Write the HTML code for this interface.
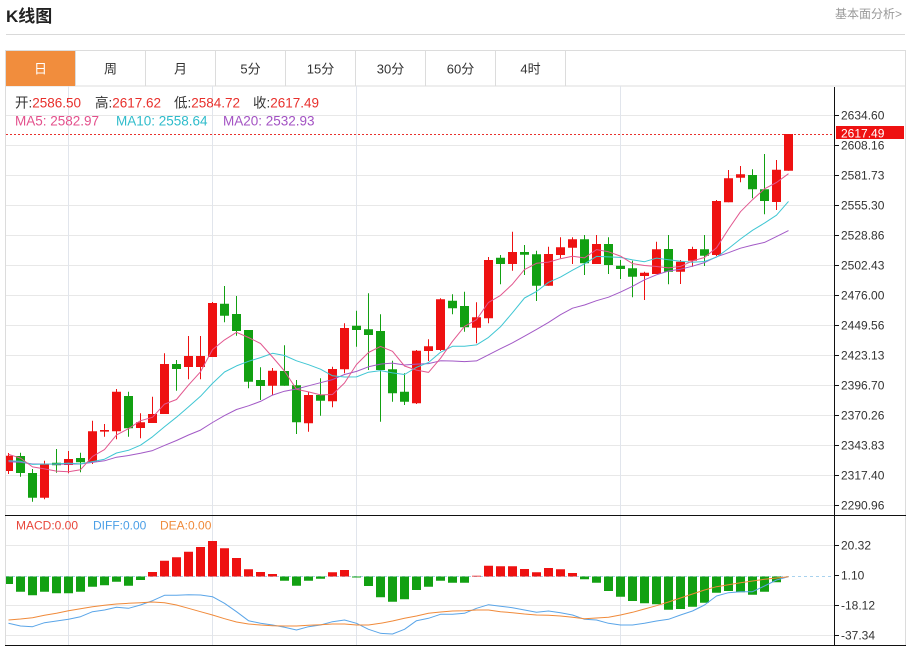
<!DOCTYPE html>
<html><head><meta charset="utf-8">
<style>
html,body{margin:0;padding:0;background:#fff;}
body{width:911px;height:648px;overflow:hidden;}
svg{display:block;font-family:"Liberation Sans","Noto Sans CJK SC",sans-serif;}
</style></head>
<body>
<svg width="911" height="648" viewBox="0 0 911 648" xmlns="http://www.w3.org/2000/svg">
<defs>
<clipPath id="cm"><rect x="6" y="87" width="828" height="428"/></clipPath>
<clipPath id="cd"><rect x="6" y="516" width="828" height="129"/></clipPath>
</defs>
<rect width="911" height="648" fill="#fff"/>
<text x="6" y="22" font-size="17" font-weight="bold" fill="#222">K线图</text>
<text x="835" y="18" font-size="12" fill="#999">基本面分析&gt;</text>
<line x1="6" y1="34.5" x2="905" y2="34.5" stroke="#d9d9d9"/>
<rect x="5.5" y="50.5" width="900" height="35.5" fill="#fff" stroke="#dcdcdc"/>
<rect x="6" y="51" width="69" height="35" fill="#f18d3d"/>
<path stroke="#dcdcdc" d="M75.5 51V86M145.5 51V86M215.5 51V86M285.5 51V86M355.5 51V86M425.5 51V86M495.5 51V86M565.5 51V86"/>
<g font-size="13" fill="#333" text-anchor="middle">
<text x="40.5" y="73.5" fill="#fff">日</text><text x="110.5" y="73.5">周</text><text x="180.5" y="73.5">月</text><text x="250.5" y="73.5">5分</text><text x="320.5" y="73.5">15分</text><text x="390.5" y="73.5">30分</text><text x="460.5" y="73.5">60分</text><text x="530.5" y="73.5">4时</text>
</g>
<path stroke="#dcdcdc" d="M5.5 86V646M905.5 86V646"/>
<path stroke="#e8e8e8" d="M6 115.5H834M6 145.5H834M6 175.5H834M6 205.5H834M6 235.5H834M6 265.5H834M6 295.5H834M6 325.5H834M6 355.5H834M6 385.5H834M6 415.5H834M6 445.5H834M6 475.5H834M6 505.5H834M6 545.5H834M6 605.5H834M6 635.5H834"/>
<path stroke="#e1e5ec" d="M68.5 86V645M212.5 86V645M356.5 86V645M620.5 86V645"/>
<g font-size="13.5">
<text x="15" y="107.5" fill="#333">开:<tspan fill="#e8302c">2586.50</tspan></text>
<text x="95" y="107.5" fill="#333">高:<tspan fill="#e8302c">2617.62</tspan></text>
<text x="174" y="107.5" fill="#333">低:<tspan fill="#e8302c">2584.72</tspan></text>
<text x="253" y="107.5" fill="#333">收:<tspan fill="#e8302c">2617.49</tspan></text>
<text x="15" y="125.5" fill="#e4508c">MA5: 2582.97</text>
<text x="116" y="125.5" fill="#2fbccb">MA10: 2558.64</text>
<text x="223" y="125.5" fill="#a352c3">MA20: 2532.93</text>
</g>
<line x1="6" y1="134.5" x2="834" y2="134.5" stroke="#e8302c" stroke-dasharray="2,2"/>
<g clip-path="url(#cm)">
<path fill="none" stroke="#ee1111" d="M8.5 453V474M44.5 460.7V499.3M68.5 451V473.3M92.5 420.7V464M104.5 424V436.7M116.5 389V439.3M140.5 413.3V438.3M152.5 396.7V423M164.5 353.3V414M188.5 336V379.3M200.5 336V379.3M212.5 302V357M272.5 368V395M308.5 391.7V431.7M332.5 366.7V407.3M344.5 323.3V373.3M416.5 350V404M428.5 339.3V361M440.5 298.3V351M476.5 302.3V343.3M488.5 257V323.3M512.5 231.7V270.7M548.5 246.7V285.7M560.5 237.3V258.3M572.5 237.3V264M596.5 235V264M644.5 271.7V300M656.5 241.7V274M680.5 260V284M692.5 246.7V266.7M716.5 200V256M728.5 170V202.3M740.5 166V182.3M776.5 160V210M788.5 134V170.7"/>
<path fill="#ee1111" d="M4 455.7h9v15.3h-9zM40 464h9v33.7h-9zM64 459h9v6h-9zM88 431.3h9v30.7h-9zM100 430h9v1.6h-9zM112 391.7h9v39.6h-9zM136 422.3h9v5.7h-9zM148 414h9v9h-9zM160 364h9v50h-9zM184 356h9v11h-9zM196 356h9v11h-9zM208 303h9v54h-9zM268 370.7h9v15h-9zM304 395h9v28.3h-9zM328 369h9v32.3h-9zM340 328h9v41.3h-9zM412 350.7h9v52.6h-9zM424 346.3h9v4.7h-9zM436 299.3h9v50.7h-9zM472 317.3h9v10.4h-9zM484 260h9v58.3h-9zM508 252h9v12h-9zM544 254h9v31.7h-9zM556 247.3h9v7.7h-9zM568 239.3h9v8.4h-9zM592 244h9v20h-9zM640 272.7h9v3.3h-9zM652 249.3h9v24.7h-9zM676 261.7h9v10h-9zM688 249h9v11.7h-9zM712 201h9v54h-9zM724 178.3h9v24h-9zM736 174.3h9v3.4h-9zM772 169.7h9v32.3h-9zM784 134h9v36.7h-9z"/>
<path fill="none" stroke="#12a012" d="M20.5 452.7V476.7M32.5 469V501.7M56.5 449V472.7M80.5 452.7V472.3M128.5 391.7V436.7M176.5 360V390.7M224.5 286V322.3M236.5 296V335.7M248.5 330V388.3M260.5 367.3V400M284.5 345.3V385.7M296.5 380V434M320.5 378.3V415.7M356.5 310.7V346.7M368.5 293.3V370M380.5 314.3V421.7M392.5 360.7V401.7M404.5 373.3V405M452.5 294.3V314.3M464.5 291.7V331.7M500.5 255V284.3M524.5 245V275M536.5 250.7V301M584.5 235V275M608.5 237.3V274M620.5 260V279M632.5 260.7V297.3M668.5 235V284.3M704.5 235V266M752.5 169.3V198.3M764.5 154V214.3"/>
<path fill="#12a012" d="M16 456h9v17h-9zM28 473h9v24.7h-9zM52 462.7h9v2.6h-9zM76 458h9v4.3h-9zM124 396h9v32.3h-9zM172 364h9v5h-9zM220 303.7h9v12h-9zM232 314h9v17h-9zM244 330h9v51.7h-9zM256 380h9v6h-9zM280 371h9v14.7h-9zM292 385.3h9v37h-9zM316 395h9v5.7h-9zM352 325.7h9v4.3h-9zM364 329.3h9v5.7h-9zM376 331h9v39h-9zM388 369.3h9v24h-9zM400 391.7h9v10h-9zM448 300.7h9v7.6h-9zM460 306h9v21.3h-9zM496 257.7h9v6.3h-9zM520 252h9v2.7h-9zM532 254.3h9v31.4h-9zM580 239.3h9v24h-9zM604 244h9v21h-9zM616 265.7h9v3.3h-9zM628 268.3h9v8.4h-9zM664 249h9v22.7h-9zM700 249.3h9v6.4h-9zM748 175h9v14.3h-9zM760 189.3h9v11.7h-9z"/>
<g fill="none" stroke-linejoin="round">
<polyline stroke="#a259c6" points="8.5,461.7 20.5,462.2 32.5,464.0 44.5,464.0 56.5,464.2 68.5,464.0 80.5,464.0 92.5,462.4 104.5,460.8 116.5,457.2 128.5,455.5 140.5,453.3 152.5,450.6 164.5,445.4 176.5,440.5 188.5,435.0 200.5,430.1 212.5,422.5 224.5,415.6 236.5,409.5 248.5,405.8 260.5,401.4 272.5,395.1 284.5,391.2 296.5,389.0 308.5,385.8 320.5,382.7 332.5,379.6 344.5,374.5 356.5,371.4 368.5,366.8 380.5,364.1 392.5,363.1 404.5,365.0 416.5,364.1 428.5,363.6 440.5,360.8 452.5,361.0 464.5,361.6 476.5,360.9 488.5,354.8 500.5,348.7 512.5,342.8 524.5,336.2 536.5,329.4 548.5,322.4 560.5,314.7 572.5,308.2 584.5,305.0 596.5,300.7 608.5,297.2 620.5,292.1 632.5,286.3 644.5,279.8 656.5,274.8 668.5,271.0 680.5,269.2 692.5,266.2 704.5,262.6 716.5,256.8 728.5,252.7 740.5,248.2 752.5,245.1 764.5,242.4 776.5,236.6 788.5,230.6"/>
<polyline stroke="#3fc6d3" points="8.5,460.7 20.5,461.3 32.5,464.4 44.5,464.1 56.5,463.9 68.5,463.1 80.5,463.9 92.5,461.6 104.5,459.2 116.5,453.0 128.5,450.3 140.5,445.2 152.5,436.8 164.5,426.8 176.5,417.2 188.5,406.9 200.5,396.3 212.5,383.4 224.5,372.0 236.5,365.9 248.5,361.3 260.5,357.6 272.5,353.3 284.5,355.5 296.5,360.8 308.5,364.7 320.5,369.2 332.5,375.8 344.5,377.0 356.5,376.9 368.5,372.2 380.5,370.6 392.5,372.9 404.5,374.5 416.5,367.3 428.5,362.5 440.5,352.3 452.5,346.3 464.5,346.2 476.5,344.9 488.5,337.4 500.5,326.8 512.5,312.7 524.5,298.0 536.5,291.5 548.5,282.3 560.5,277.1 572.5,270.2 584.5,263.8 596.5,256.4 608.5,256.9 620.5,257.4 632.5,259.9 644.5,261.7 656.5,258.1 668.5,259.8 680.5,261.3 692.5,262.2 704.5,261.5 716.5,257.2 728.5,248.5 740.5,239.0 752.5,230.3 764.5,223.1 776.5,215.2 788.5,201.4"/>
<polyline stroke="#e2578f" points="8.5,454.3 20.5,458.1 32.5,466.9 44.5,468.9 56.5,471.1 68.5,471.8 80.5,469.7 92.5,456.4 104.5,449.6 116.5,434.9 128.5,428.7 140.5,420.7 152.5,417.3 164.5,404.1 176.5,399.5 188.5,385.1 200.5,371.8 212.5,349.6 224.5,339.9 236.5,332.3 248.5,337.5 260.5,343.5 272.5,357.0 284.5,371.0 296.5,389.3 308.5,391.9 320.5,394.9 332.5,394.5 344.5,383.0 356.5,364.5 368.5,352.5 380.5,346.4 392.5,351.3 404.5,366.0 416.5,370.1 428.5,372.4 440.5,358.3 452.5,341.3 464.5,326.4 476.5,319.7 488.5,302.4 500.5,295.4 512.5,284.1 524.5,269.6 536.5,263.3 548.5,262.1 560.5,258.7 572.5,256.2 584.5,257.9 596.5,249.6 608.5,251.8 620.5,256.1 632.5,263.6 644.5,265.5 656.5,266.5 668.5,267.9 680.5,266.4 692.5,260.9 704.5,257.5 716.5,247.8 728.5,229.1 740.5,211.7 752.5,199.7 764.5,188.8 776.5,182.5 788.5,173.7"/>
</g>
</g>
<line x1="6" y1="576.5" x2="834" y2="576.5" stroke="#a8d2ee" stroke-dasharray="3,3"/>
<g clip-path="url(#cd)">
<path fill="#12a012" d="M4 576.5h9v7.5h-9zM16 576.5h9v15.2h-9zM28 576.5h9v18.8h-9zM40 576.5h9v15.2h-9zM52 576.5h9v16.8h-9zM64 576.5h9v16.8h-9zM76 576.5h9v15.2h-9zM88 576.5h9v10.2h-9zM100 576.5h9v8.8h-9zM112 576.5h9v5.2h-9zM124 576.5h9v9.2h-9zM136 576.5h9v3.5h-9zM280 576.5h9v4.2h-9zM292 576.5h9v9.2h-9zM304 576.5h9v4.2h-9zM316 576.5h9v2.2h-9zM352 576.5h9v1h-9zM364 576.5h9v9.5h-9zM376 576.5h9v20.8h-9zM388 576.5h9v25.2h-9zM400 576.5h9v22.8h-9zM412 576.5h9v13.5h-9zM424 576.5h9v10.2h-9zM436 576.5h9v4.2h-9zM448 576.5h9v6.2h-9zM460 576.5h9v6.2h-9zM580 576.5h9v2.8h-9zM592 576.5h9v6.2h-9zM604 576.5h9v14.5h-9zM616 576.5h9v20.2h-9zM628 576.5h9v24.5h-9zM640 576.5h9v26.8h-9zM652 576.5h9v27.8h-9zM664 576.5h9v33.2h-9zM676 576.5h9v32.5h-9zM688 576.5h9v30.2h-9zM700 576.5h9v26.2h-9zM712 576.5h9v16.2h-9zM724 576.5h9v14.5h-9zM736 576.5h9v15.8h-9zM748 576.5h9v18.2h-9zM760 576.5h9v15.2h-9zM772 576.5h9v5.8h-9z"/>
<path fill="#ee1111" d="M148 572h9v4.5h-9zM160 560.7h9v15.8h-9zM172 557.3h9v19.2h-9zM184 551.7h9v24.8h-9zM196 547h9v29.5h-9zM208 541h9v35.5h-9zM220 548.3h9v28.2h-9zM232 558h9v18.5h-9zM244 569.3h9v7.2h-9zM256 572h9v4.5h-9zM268 574h9v2.5h-9zM328 572.3h9v4.2h-9zM340 570h9v6.5h-9zM472 575.7h9v0.8h-9zM484 565.7h9v10.8h-9zM496 566.3h9v10.2h-9zM508 566.3h9v10.2h-9zM520 569h9v7.5h-9zM532 572.3h9v4.2h-9zM544 568h9v8.5h-9zM556 569.3h9v7.2h-9zM568 573h9v3.5h-9z"/>
<g fill="none" stroke-linejoin="round">
<polyline stroke="#5aa5e8" points="8.5,623.3 20.5,626 32.5,626.7 44.5,622.7 56.5,621 68.5,619.3 80.5,616.7 92.5,611.7 104.5,610 116.5,607.3 128.5,608.3 140.5,605 152.5,600.7 164.5,595.3 176.5,595.3 188.5,594.7 200.5,595 212.5,596.7 224.5,603.3 236.5,611.7 248.5,620.7 260.5,623.3 272.5,625 284.5,627.3 296.5,630 308.5,626.7 320.5,625 332.5,621.7 344.5,620 356.5,623.3 368.5,629.3 380.5,633.3 392.5,634 404.5,629.3 416.5,620.7 428.5,618.3 440.5,614.3 452.5,614.3 464.5,613.3 476.5,608.3 488.5,604.7 500.5,606.3 512.5,607.7 524.5,610 536.5,612.3 548.5,611 560.5,612.7 572.5,615 584.5,619.3 596.5,620 608.5,623.3 620.5,625 632.5,625 644.5,623.3 656.5,621 668.5,619.3 680.5,615 692.5,611 704.5,605 716.5,596 728.5,592.7 740.5,591.7 752.5,591.7 764.5,586 776.5,580 788.5,576.7"/>
<polyline stroke="#f08a3a" points="8.5,620 20.5,619 32.5,617.7 44.5,615.3 56.5,613.3 68.5,610.7 80.5,608.7 92.5,606.7 104.5,605.3 116.5,604 128.5,603.3 140.5,602.7 152.5,602 164.5,602.7 176.5,605 188.5,608.3 200.5,611.7 212.5,615 224.5,618.7 236.5,622 248.5,624 260.5,625 272.5,625.7 284.5,626 296.5,626 308.5,625.3 320.5,624.7 332.5,624 344.5,624 356.5,625 368.5,625 380.5,623.3 392.5,621 404.5,618.3 416.5,616 428.5,613.3 440.5,612 452.5,611 464.5,610.7 476.5,610 488.5,610 500.5,611.7 512.5,612.7 524.5,614 536.5,615 548.5,615.3 560.5,616 572.5,617.3 584.5,618.7 596.5,618 608.5,617.3 620.5,615 632.5,612.3 644.5,609 656.5,605.7 668.5,602 680.5,598 692.5,594 704.5,590 716.5,586.7 728.5,584.7 740.5,582.7 752.5,581 764.5,579.3 776.5,578 788.5,576.7"/>
</g>
</g>
<g font-size="12">
<text x="16" y="529.5" fill="#e8463a">MACD:0.00</text>
<text x="93" y="529.5" fill="#4a9ee6">DIFF:0.00</text>
<text x="160" y="529.5" fill="#ef8a3a">DEA:0.00</text>
</g>
<path stroke="#111" d="M5 515.5H906M5 645.5H906M834.5 87V646M835 115.5H839M835 145.5H839M835 175.5H839M835 205.5H839M835 235.5H839M835 265.5H839M835 295.5H839M835 325.5H839M835 355.5H839M835 385.5H839M835 415.5H839M835 445.5H839M835 475.5H839M835 505.5H839M835 545.5H839M835 575.5H839M835 605.5H839M835 635.5H839"/>
<g font-size="12" fill="#333">
<text x="841" y="119.5">2634.60</text><text x="841" y="149.5">2608.16</text><text x="841" y="179.5">2581.73</text><text x="841" y="209.5">2555.30</text><text x="841" y="239.5">2528.86</text><text x="841" y="269.5">2502.43</text><text x="841" y="299.5">2476.00</text>
<text x="841" y="329.5">2449.56</text><text x="841" y="359.5">2423.13</text><text x="841" y="389.5">2396.70</text><text x="841" y="419.5">2370.26</text><text x="841" y="449.5">2343.83</text><text x="841" y="479.5">2317.40</text><text x="841" y="509.5">2290.96</text>
<text x="841" y="549.5">20.32</text><text x="841" y="579.5">1.10</text><text x="841" y="609.5">-18.12</text><text x="841" y="639.5">-37.34</text>
</g>
<rect x="836" y="126" width="68" height="13" fill="#ee1111"/>
<text x="841" y="137.5" font-size="12" fill="#fff">2617.49</text>
</svg>
</body></html>
